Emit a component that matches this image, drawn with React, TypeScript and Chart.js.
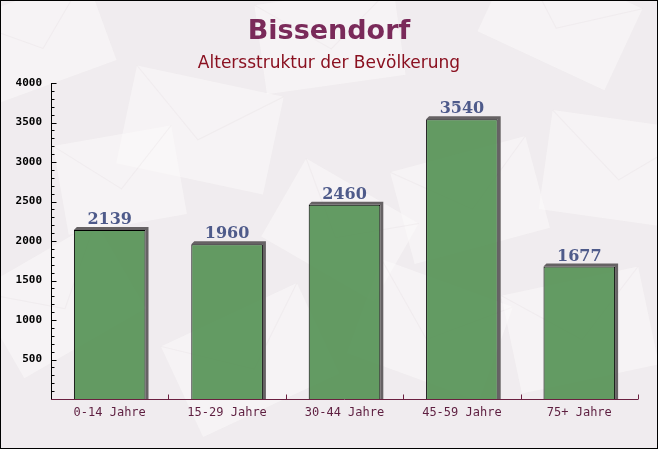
import React, { useEffect, useRef } from 'react';
import { Chart, registerables } from 'chart.js';

Chart.register(...registerables);

const titleText = 'Bissendorf';
const subtitleText = 'Altersstruktur der Bevölkerung';
const categories = ['0-14 Jahre', '15-29 Jahre', '30-44 Jahre', '45-59 Jahre', '75+ Jahre'];
const values = [2139, 1960, 2460, 3540, 1677];
const yMax = 4000;
const yStep = 500;
const yMinorStep = 100;

// decorative envelope shapes: [cx, cy, w, h, angleDeg]
const envelopes: number[][] = [
  [40, 40, 130, 90, -20],
  [200, 130, 150, 100, 12],
  [330, 40, 140, 90, -8],
  [560, 20, 140, 90, 25],
  [620, 170, 150, 100, 8],
  [470, 200, 140, 95, -15],
  [340, 230, 130, 90, 30],
  [60, 300, 140, 100, -30],
  [250, 360, 150, 100, -25],
  [430, 330, 140, 100, 20],
  [580, 330, 140, 100, -12],
  [120, 180, 120, 90, -10],
];

const bgPlugin = {
  id: 'bgPlugin',
  beforeDraw(chart: any) {
    const ctx = chart.ctx;
    const w = chart.width;
    const h = chart.height;
    ctx.save();
    ctx.fillStyle = '#f0ecef';
    ctx.fillRect(0, 0, w, h);
    for (const [cx, cy, ew, eh, a] of envelopes) {
      ctx.save();
      ctx.translate(cx, cy);
      ctx.rotate((a * Math.PI) / 180);
      ctx.fillStyle = 'rgba(252,250,250,0.55)';
      ctx.fillRect(-ew / 2, -eh / 2, ew, eh);
      ctx.strokeStyle = 'rgba(225,215,218,0.25)';
      ctx.lineWidth = 1;
      ctx.beginPath();
      ctx.moveTo(-ew / 2, -eh / 2);
      ctx.lineTo(0, eh * 0.1);
      ctx.lineTo(ew / 2, -eh / 2);
      ctx.stroke();
      ctx.restore();
    }
    // titles
    ctx.textAlign = 'center';
    ctx.textBaseline = 'middle';
    ctx.fillStyle = '#7a2a5a';
    ctx.font = 'bold 27px "DejaVu Sans"';
    ctx.fillText(titleText, w / 2, 32);
    ctx.fillStyle = '#8a1020';
    ctx.font = '17px "DejaVu Sans"';
    ctx.fillText(subtitleText, w / 2, 64);
    // outer border
    ctx.strokeStyle = '#000';
    ctx.lineWidth = 1;
    ctx.strokeRect(0.5, 0.5, w - 1, h - 1);
    ctx.restore();
  },
};

const shadowPlugin = {
  id: 'shadowPlugin',
  beforeDatasetsDraw(chart: any) {
    const ctx = chart.ctx;
    const meta = chart.getDatasetMeta(0);
    ctx.save();
    ctx.fillStyle = '#666264';
    const d = 3;
    for (const bar of meta.data) {
      const left = bar.x - bar.width / 2;
      const right = bar.x + bar.width / 2;
      const top = bar.y;
      const base = bar.base;
      ctx.beginPath();
      ctx.moveTo(left, top);
      ctx.lineTo(left + d, top - d);
      ctx.lineTo(right + d, top - d);
      ctx.lineTo(right + d, base);
      ctx.lineTo(right, base);
      ctx.lineTo(right, top);
      ctx.closePath();
      ctx.fill();
    }
    ctx.restore();
  },
};

const axesPlugin = {
  id: 'axesPlugin',
  afterDatasetsDraw(chart: any) {
    const ctx = chart.ctx;
    const area = chart.chartArea;
    const yScale = chart.scales.y;
    const xScale = chart.scales.x;
    ctx.save();
    ctx.lineWidth = 1;
    // y axis
    ctx.strokeStyle = '#000';
    const ax = Math.round(area.left) + 0.5;
    ctx.beginPath();
    ctx.moveTo(ax, yScale.getPixelForValue(yMax));
    ctx.lineTo(ax, area.bottom);
    ctx.stroke();
    for (let v = yMinorStep; v <= yMax; v += yMinorStep) {
      const py = Math.round(yScale.getPixelForValue(v)) + 0.5;
      const len = v % yStep === 0 ? 5 : 3;
      ctx.beginPath();
      ctx.moveTo(ax, py);
      ctx.lineTo(ax + len, py);
      ctx.stroke();
    }
    // x axis
    ctx.strokeStyle = '#6b2040';
    const by = Math.round(area.bottom) + 0.5;
    ctx.beginPath();
    ctx.moveTo(area.left, by);
    ctx.lineTo(area.right, by);
    ctx.stroke();
    const n = categories.length;
    for (let i = 1; i <= n; i++) {
      const px = Math.round((xScale.getPixelForValue(i - 1) + (i < n ? xScale.getPixelForValue(i) : 2 * xScale.getPixelForValue(i - 1) - xScale.getPixelForValue(i - 2))) / 2) + 0.5;
      ctx.beginPath();
      ctx.moveTo(px, by);
      ctx.lineTo(px, by - 5);
      ctx.stroke();
    }
    ctx.restore();
  },
};

const labelPlugin = {
  id: 'labelPlugin',
  afterDatasetsDraw(chart: any) {
    const ctx = chart.ctx;
    const meta = chart.getDatasetMeta(0);
    ctx.save();
    ctx.fillStyle = '#4e5a8a';
    ctx.font = 'bold 16px "DejaVu Serif"';
    ctx.textAlign = 'center';
    ctx.textBaseline = 'alphabetic';
    meta.data.forEach((bar: any, i: number) => {
      ctx.fillText(String(values[i]), bar.x, bar.y - 6);
    });
    ctx.restore();
  },
};

export default function App() {
  const ref = useRef<HTMLCanvasElement>(null);
  useEffect(() => {
    if (!ref.current) return;
    const chart = new Chart(ref.current, {
      type: 'bar',
      data: {
        labels: categories,
        datasets: [
          {
            data: values,
            backgroundColor: 'rgba(78,142,78,0.88)',
            borderColor: '#000',
            borderWidth: { left: 1, top: 1, right: 1, bottom: 0 },
            borderSkipped: 'bottom',
            barPercentage: 0.61,
            categoryPercentage: 1,
          },
        ],
      },
      options: {
        responsive: false,
        animation: false,
        events: [],
        layout: { padding: { top: 83, right: 20, left: 0, bottom: 0 } },
        plugins: {
          legend: { display: false },
          title: { display: false },
          tooltip: { enabled: false },
        },
        scales: {
          x: {
            grid: { display: false, drawTicks: false },
            border: { display: false },
            ticks: {
              color: '#5e1f40',
              font: { family: '"DejaVu Sans Mono"', size: 12 },
              padding: 7,
              maxRotation: 0,
              autoSkip: false,
            },
            afterFit(scale: any) {
              scale.height = 50;
            },
          },
          y: {
            min: 0,
            max: yMax,
            grid: { display: false, drawTicks: false },
            border: { display: false },
            ticks: {
              stepSize: yStep,
              color: '#000',
              font: { family: '"DejaVu Sans Mono"', size: 11, weight: 'bold' },
              padding: 9,
              callback: (v: any) => (v === 0 ? '' : String(v)),
            },
            afterFit(scale: any) {
              scale.width = 51;
            },
          },
        },
      },
      plugins: [bgPlugin, shadowPlugin, axesPlugin, labelPlugin],
    } as any);
    return () => chart.destroy();
  }, []);
  return (
    <div style={{ position: 'absolute', left: 0, top: 0, width: 658, height: 449 }}>
      <canvas ref={ref} width={658} height={449} style={{ display: 'block', width: 658, height: 449 }} />
    </div>
  );
}
